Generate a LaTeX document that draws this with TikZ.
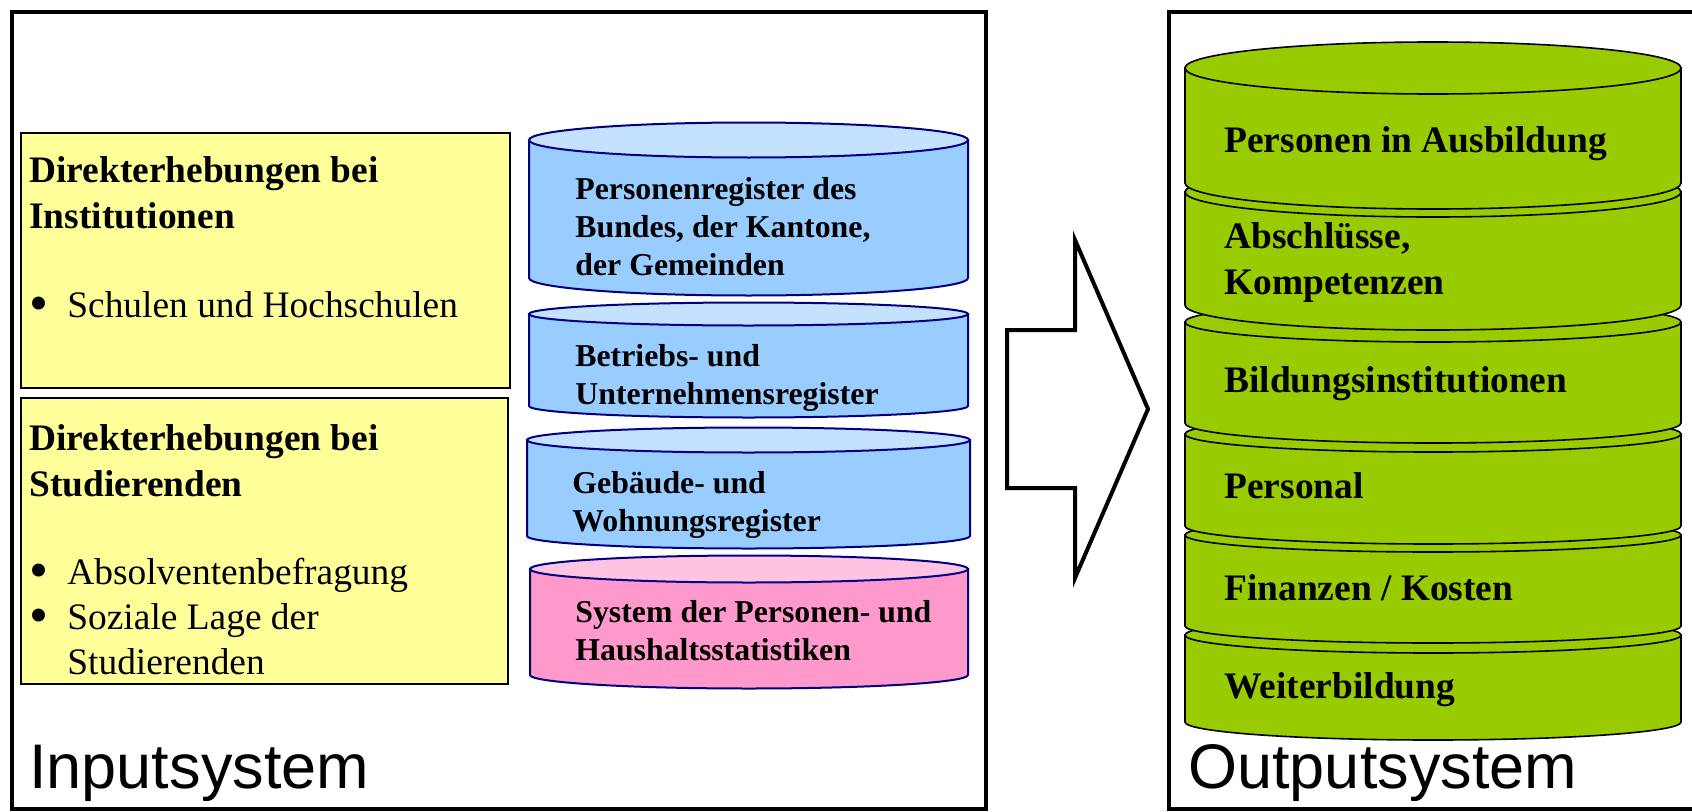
\documentclass[tikz,border=0pt]{standalone}
\usepackage{fontspec}
\usepackage{graphicx}
\setmainfont{Liberation Serif}
\newfontfamily\arialfont{Liberation Sans}

\definecolor{surveyyellow}{HTML}{FFFF99}
\definecolor{regblue}{HTML}{99CCFF}
\definecolor{regbluelid}{HTML}{C4E1FF}
\definecolor{regpink}{HTML}{FF99CC}
\definecolor{regpinklid}{HTML}{FFC4E1}
\definecolor{regline}{HTML}{000080}
\definecolor{outgreen}{HTML}{99CC00}

% cx, rx, y top, y bottom, ry, body colour, lid colour
\newcommand{\dbdisk}[7]{%
  \filldraw[fill=#6] (#1-#2,#3) -- (#1-#2,#4)
    arc[start angle=180,end angle=360,x radius=#2,y radius=#5] -- (#1+#2,#3) -- cycle;
  \filldraw[fill=#7] (#1,#3) ellipse[x radius=#2,y radius=#5];
}
\newcommand{\itm}{\makebox[19pt][l]{\raisebox{-0.1em}{\scalebox{1.45}{\textbullet}}}}

\begin{document}
\begin{tikzpicture}[x=0.5pt,y=0.5pt,
  frame/.style={draw,line width=2pt},
  survey/.style={draw,fill=surveyyellow,line width=0.8pt},
  regtext/.style={anchor=north west,inner sep=0pt,align=left,
    font=\bfseries\fontsize{15.9}{19}\selectfont},
  headtext/.style={anchor=north west,inner sep=0pt,align=left,
    font=\bfseries\fontsize{18.7}{23}\selectfont},
  itemtext/.style={anchor=north west,inner sep=0pt,align=left,
    font=\fontsize{18.7}{22.5}\selectfont},
  systext/.style={anchor=base west,inner sep=0pt,
    font=\arialfont\fontsize{31.5}{36}\selectfont}]
  \useasboundingbox (0,0) rectangle (1692,811);
  \clip (0,0) rectangle (1692,811);

  \draw[frame] (11.5,2) rectangle (986,799);
  \draw[frame] (1169,2) rectangle (1720,799);

  \filldraw[survey] (21,423) rectangle (510,678);
  \filldraw[survey] (21,127) rectangle (508,413);
  \node[headtext] (inst) at (29,654.4) {Direkterhebungen bei\\Institutionen};
  \node[itemtext] (schulen) at (29,519.4) {\itm Schulen und Hochschulen};
  \node[headtext] (stud) at (29,386.4) {Direkterhebungen bei\\Studierenden};
  \node[itemtext] (absolv) at (29,253.4)
    {\itm Absolventenbefragung\\\itm Soziale Lage der\\\hspace*{19pt}Studierenden};

  \begin{scope}[draw=regline,line width=1pt]
    \dbdisk{748.5}{219.5}{671}{533}{17.5}{regblue}{regbluelid}
    \dbdisk{748.5}{219.5}{497}{405}{11.5}{regblue}{regbluelid}
    \dbdisk{748.5}{221.5}{371}{275}{12.5}{regblue}{regbluelid}
    \dbdisk{749}{219}{242}{136}{13.5}{regpink}{regpinklid}
  \end{scope}
  \node[regtext] (persreg) at (575,633.6)
    {Personenregister des\\Bundes, der Kantone,\\der Gemeinden};
  \node[regtext] (betrreg) at (575,466.6) {Betriebs- und\\Unternehmensregister};
  \node[regtext] (gebreg) at (572,339.6) {Gebäude- und\\Wohnungsregister};
  \node[regtext] (phstat) at (575,210.6)
    {System der Personen- und\\Haushaltsstatistiken};

  \draw[line width=2pt,line join=miter] (1007,481) -- (1075,481) -- (1075,571)
    -- (1148,402) -- (1075,233) -- (1075,323) -- (1007,323) -- cycle;

  \begin{scope}[draw=black,line width=0.8pt]
    \dbdisk{1433}{248}{176}{89}{18}{outgreen}{outgreen}
    \dbdisk{1433}{248}{276}{185}{17}{outgreen}{outgreen}
    \dbdisk{1433}{248}{377}{285}{18}{outgreen}{outgreen}
    \dbdisk{1433}{248}{489}{388}{20}{outgreen}{outgreen}
    \dbdisk{1433}{248}{619}{506}{25}{outgreen}{outgreen}
    \dbdisk{1433}{248}{743}{628}{26}{outgreen}{outgreen}
  \end{scope}
  \node[headtext] (ausb) at (1224,684.4) {Personen in Ausbildung};
  \node[headtext] (abschl) at (1224,588.4) {Abschlüsse,\\Kompetenzen};
  \node[headtext] (inst2) at (1224,444.4) {Bildungsinstitutionen};
  \node[headtext] (pers) at (1224,338.4) {Personal};
  \node[headtext] (fin) at (1224,236.4) {Finanzen / Kosten};
  \node[headtext] (weiter) at (1224,138.4) {Weiterbildung};

  \node[systext] (input) at (29,23) {Inputsystem};
  \node[systext] (output) at (1188,23) {Outputsystem};
\end{tikzpicture}
\end{document}
